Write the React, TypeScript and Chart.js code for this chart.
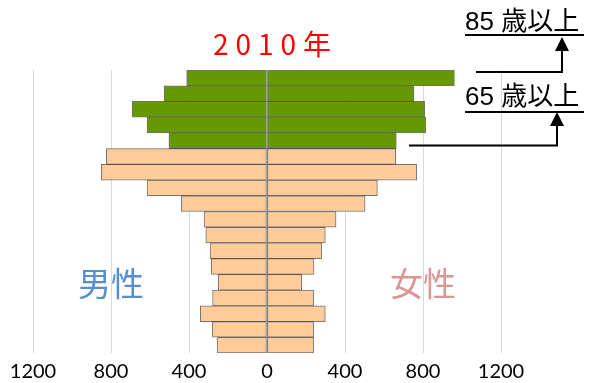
import React, { useEffect, useRef } from "react";
import { Chart, registerables } from "chart.js";

Chart.register(...registerables);

const ageGroups = [
  "85歳以上", "80-84", "75-79", "70-74", "65-69", "60-64", "55-59", "50-54", "45-49",
  "40-44", "35-39", "30-34", "25-29", "20-24", "15-19", "10-14", "5-9", "0-4",
];
const maleValues = [412, 528, 692, 615, 503, 824, 850, 615, 440, 323, 314, 292, 286, 250, 279, 342, 280, 256];
const femaleValues = [961, 754, 809, 814, 663, 660, 768, 566, 503, 354, 299, 280, 241, 178, 239, 299, 239, 239];
const elderlyCount = 5; // first 5 groups: 65歳以上
const tickValues = [-1200, -800, -400, 0, 400, 800, 1200];

const titleText = "2010年";
const maleLabel = "男性";
const femaleLabel = "女性";
const label85 = "85 歳以上";
const label65 = "65 歳以上";

const GREEN = "#669900";
const PEACH = "#FFCC99";

const overlayPlugin = {
  id: "overlay",
  afterDraw(chart: any) {
    const { ctx } = chart;
    const x = chart.scales.x;
    const y = chart.scales.y;
    const band = y.getPixelForValue(1) - y.getPixelForValue(0);
    ctx.save();

    // title
    ctx.fillStyle = "#FF0000";
    ctx.font = "28px 'Noto Sans CJK JP'";
    (ctx as any).letterSpacing = "7px";
    ctx.textAlign = "left";
    ctx.textBaseline = "middle";
    const tw = ctx.measureText(titleText).width - 7;
    ctx.fillText(titleText, 272 - tw / 2, 44);
    (ctx as any).letterSpacing = "0px";

    // gender labels
    ctx.font = "33px 'Noto Sans CJK JP'";
    ctx.textAlign = "center";
    ctx.fillStyle = "#558ED5";
    ctx.fillText(maleLabel, x.getPixelForValue(-800), 283);
    ctx.fillStyle = "#D99694";
    ctx.fillText(femaleLabel, x.getPixelForValue(800), 283);

    // annotation labels
    ctx.fillStyle = "#000";
    ctx.font = "26px 'Liberation Sans', 'Noto Sans CJK JP'";
    ctx.textAlign = "left";
    ctx.textBaseline = "alphabetic";
    ctx.fillText(label85, 465, 30);
    ctx.fillText(label65, 465, 105);

    ctx.strokeStyle = "#000";
    ctx.lineWidth = 2;
    const line = (pts: number[][]) => {
      ctx.beginPath();
      ctx.moveTo(pts[0][0], pts[0][1]);
      for (let i = 1; i < pts.length; i++) ctx.lineTo(pts[i][0], pts[i][1]);
      ctx.stroke();
    };
    const head = (cx: number, tipY: number) => {
      ctx.beginPath();
      ctx.moveTo(cx, tipY);
      ctx.lineTo(cx - 7, tipY + 14);
      ctx.lineTo(cx + 7, tipY + 14);
      ctx.closePath();
      ctx.fill();
    };
    // underlines
    line([[465, 35], [584, 35]]);
    line([[465, 112], [584, 112]]);

    const yTop = y.getPixelForValue(0) - band / 2 + 2;
    const yGreenBottom = y.getPixelForValue(elderlyCount - 1) + band / 2 - 3;
    line([[476, yTop], [562, yTop], [562, 50]]);
    head(562, 37);
    line([[409, yGreenBottom], [557, yGreenBottom], [557, 124]]);
    head(557, 112);

    ctx.restore();
  },
};

export default function App() {
  const ref = useRef<HTMLCanvasElement | null>(null);
  useEffect(() => {
    document.body.style.margin = "0";
    const colors = ageGroups.map((_, i) => (i < elderlyCount ? GREEN : PEACH));
    const common = {
      backgroundColor: colors,
      borderColor: "rgba(40,40,40,0.65)",
      borderWidth: 1,
      borderSkipped: false,
      barPercentage: 1,
      categoryPercentage: 1,
    };
    const chart = new Chart(ref.current as HTMLCanvasElement, {
      type: "bar",
      data: {
        labels: ageGroups,
        datasets: [
          { label: maleLabel, data: maleValues.map((v) => -v), ...common },
          { label: femaleLabel, data: femaleValues, ...common },
        ],
      },
      options: {
        indexAxis: "y",
        animation: false,
        responsive: false,
        devicePixelRatio: 1,
        layout: { padding: { left: 33, right: 97, top: 70, bottom: -8 } },
        plugins: { legend: { display: false }, title: { display: false }, tooltip: { enabled: false } },
        scales: {
          x: {
            min: -1200,
            max: 1200,
            stacked: true,
            afterBuildTicks: (axis: any) => {
              axis.ticks = tickValues.map((v) => ({ value: v }));
            },
            ticks: {
              callback: (v: any) => String(Math.abs(Number(v))),
              font: { family: "Lato", size: 20, lineHeight: 1.2 },
              color: "#000",
              padding: 7,
              maxRotation: 0,
            },
            grid: { color: "#D9D9D9", lineWidth: 1, drawTicks: false },
            border: { display: false },
          },
          y: {
            stacked: true,
            display: false,
          },
        },
      },
      plugins: [overlayPlugin],
    });
    return () => chart.destroy();
  }, []);
  return (
    <div style={{ width: 598, height: 383, position: "relative", background: "#fff" }}>
      <canvas ref={ref} width={598} height={383} />
    </div>
  );
}
